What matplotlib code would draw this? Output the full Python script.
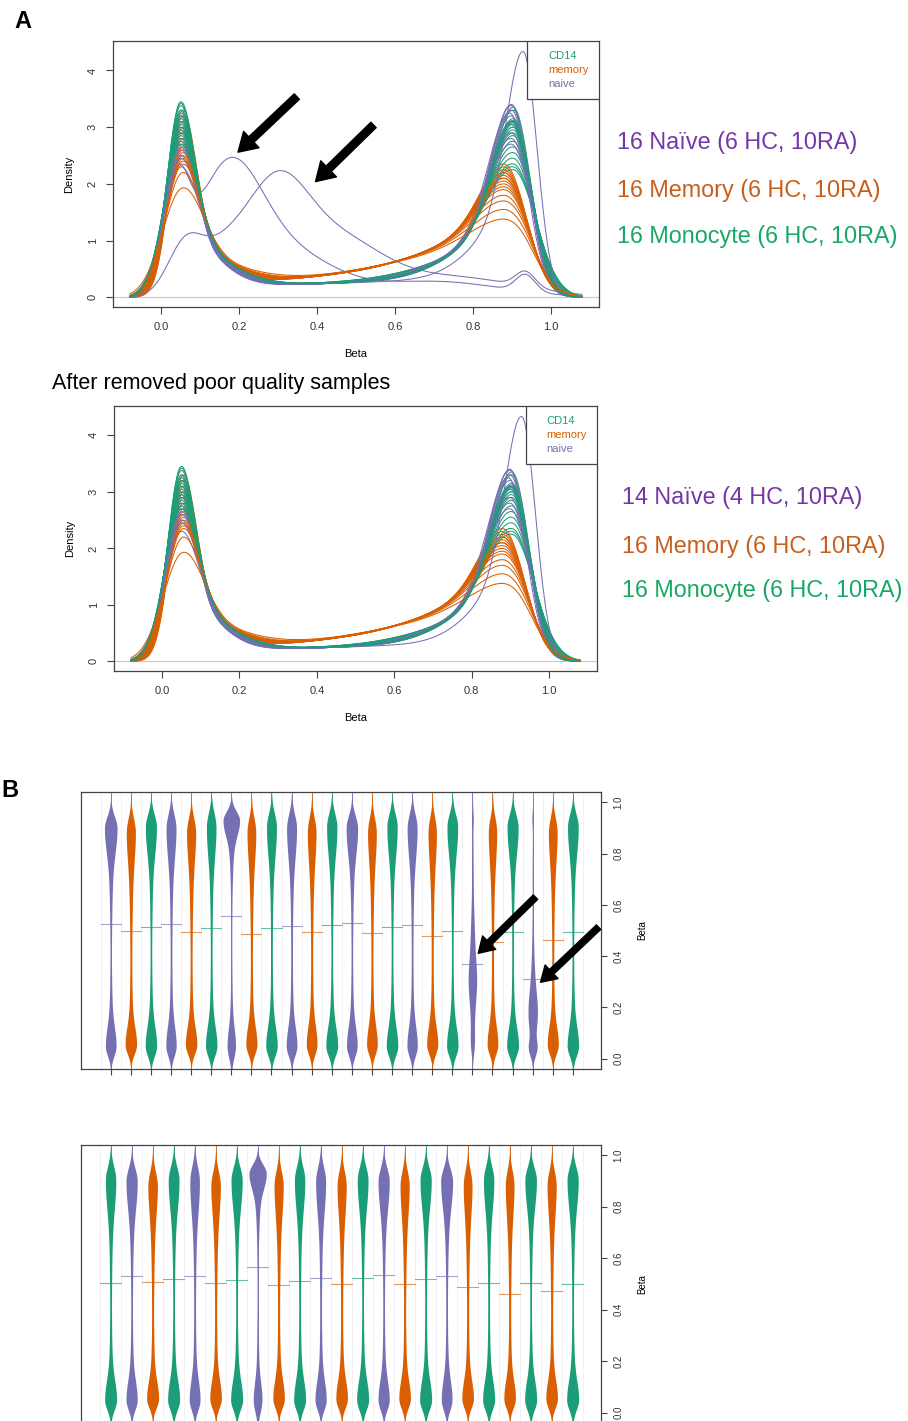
import numpy as np
import matplotlib.pyplot as plt
from matplotlib.patches import Rectangle

plt.rcParams['font.family'] = ['Liberation Sans', 'DejaVu Sans']

W, H = 908, 1421

# RColorBrewer Dark2, as in the R plots
cols = {'CD14': '#1B9E77', 'memory': '#D95F02', 'naive': '#7570B3'}
text_cols = {'naive': '#7536A6', 'memory': '#C75F1C', 'CD14': '#17A865'}

# ---- panel A: peak heights of each density curve ----
cd14_lo = [3.45, 3.42, 3.38, 3.3, 3.25, 3.2, 3.15, 3.1, 3.05, 3.0, 2.95, 2.9, 2.85, 2.8, 2.75, 2.7]
cd14_hi = [2.25, 2.3, 2.35, 2.45, 2.55, 2.65, 2.75, 2.85, 2.9, 2.95, 3.0, 3.05, 3.08, 3.1, 3.12, 3.3]
naive_lo = [3.3, 3.2, 3.1, 3.0, 2.95, 2.9, 2.8, 2.75, 2.7, 2.65, 2.6, 2.5, 2.3, 2.45]
naive_hi = [3.4, 3.38, 3.35, 3.3, 3.25, 3.2, 3.15, 3.1, 3.05, 3.0, 2.9, 2.8, 2.7, 4.33]
naive_hi_pos = [0.9, 0.9, 0.905, 0.9, 0.895, 0.9, 0.905, 0.9, 0.9, 0.905, 0.9, 0.9, 0.9, 0.93]
memory_lo = [3.3, 3.2, 3.1, 3.0, 2.9, 2.8, 2.7, 2.65, 2.6, 2.55, 2.5, 2.45, 2.4, 2.35, 2.2, 1.93]
memory_hi = [2.35, 2.3, 2.25, 2.2, 2.2, 2.15, 2.1, 2.1, 2.05, 2.0, 1.95, 1.9, 1.8, 1.7, 1.55, 1.38]

# group shape: low peak pos, high peak pos, low sd, high sd, middle level, middle slope
shape = {
    'CD14':   (0.05, 0.905, 0.039, 0.052, 0.27, 0.9),
    'naive':  (0.05, 0.900, 0.039, 0.050, 0.26, 0.9),
    'memory': (0.055, 0.880, 0.041, 0.060, 0.45, 2.0),
}
ref_h = {'CD14': (3.05, 2.9), 'naive': (2.8, 3.1), 'memory': (2.6, 2.05)}

# two poor-quality naive samples, as gaussian pieces (centre, sd, height)
bad_naive_1 = [(0.04, 0.03, 1.6), (0.17, 0.085, 2.1), (0.32, 0.12, 0.75),
               (0.70, 0.17, 0.28), (0.935, 0.025, 0.3)]
bad_naive_2 = [(0.06, 0.045, 0.85), (0.15, 0.06, 0.6), (0.29, 0.08, 1.7),
               (0.44, 0.12, 1.0), (0.75, 0.17, 0.35), (0.935, 0.025, 0.27)]

# ---- panel B: bean plots (peak densities and mean beta per sample) ----
b1_group = ['naive', 'memory', 'CD14'] * 8
b1_lo = [2.8, 3.0, 3.0, 2.7, 3.0, 3.0, 2.2, 2.9, 3.0, 2.8, 2.8, 3.1,
         2.8, 2.8, 3.0, 2.7, 2.9, 3.0, None, 2.8, 3.1, None, 2.9, 3.0]
b1_hi = [3.3, 2.4, 2.9, 2.6, 2.4, 2.5, 4.33, 2.3, 2.6, 2.6, 2.3, 2.7,
         3.0, 2.3, 2.7, 2.6, 2.2, 2.8, None, 2.2, 2.9, None, 2.3, 2.8]
b1_mean = [0.526, 0.499, 0.514, 0.525, 0.496, 0.509, 0.557, 0.488, 0.508, 0.517, 0.495, 0.521,
           0.529, 0.492, 0.512, 0.522, 0.480, 0.499, 0.371, 0.455, 0.496, 0.310, 0.464, 0.494]
b1_bad = {19: bad_naive_2, 22: bad_naive_1}

b2_group = ['CD14', 'naive', 'memory', 'CD14', 'naive', 'memory', 'CD14', 'naive', 'memory',
            'CD14', 'naive', 'memory', 'CD14', 'naive', 'memory', 'CD14', 'naive', 'memory',
            'CD14', 'memory', 'CD14', 'memory', 'CD14']
b2_lo = [3.0, 2.8, 3.0, 3.0, 2.7, 2.9, 3.0, 2.2, 2.9, 3.0, 2.8, 2.9,
         3.0, 2.8, 2.9, 3.0, 2.7, 2.9, 3.0, 2.9, 3.0, 2.9, 3.0]
b2_hi = [2.6, 2.8, 2.4, 2.7, 2.4, 2.4, 2.8, 4.33, 2.3, 2.6, 2.5, 2.3,
         2.7, 2.8, 2.3, 2.8, 3.0, 2.2, 2.6, 2.2, 2.9, 2.3, 2.8]
b2_mean = [0.505, 0.533, 0.509, 0.520, 0.533, 0.503, 0.514, 0.567, 0.497, 0.513, 0.523, 0.501,
           0.525, 0.536, 0.500, 0.518, 0.531, 0.489, 0.505, 0.461, 0.502, 0.471, 0.500]


def sig(z):
    return 1 / (1 + np.exp(-z))


def peak(x, mu, sd_out, sd_in, tail_right):
    # outer side plain gaussian, inner side gaussian with a heavier tail
    outer = np.exp(-0.5 * ((x - mu) / sd_out) ** 2)
    z = (x - mu) / sd_in
    inner = 0.7 * np.exp(-0.5 * z ** 2) + 0.3 * np.exp(-0.5 * (z / 2.5) ** 2)
    side = (x > mu) if tail_right else (x < mu)
    return np.where(side, inner, outer)


def density(x, group, lo_h, hi_h, hi_pos=None, spread=1.0):
    lo_mu, hi_mu, lo_sd, hi_sd, mid_a, mid_b = shape[group]
    if hi_pos is not None:
        hi_mu = hi_pos
    lo_sd = lo_sd * (ref_h[group][0] / lo_h) ** 0.8
    hi_sd = hi_sd * (ref_h[group][1] / hi_h) ** 0.8

    def mid(v):
        return mid_a * np.exp(mid_b * (v - 0.5)) * sig((v - 0.1) / 0.03) * sig((0.95 - v) / 0.025)
    return (mid(x) + (lo_h - mid(lo_mu)) * peak(x, lo_mu, lo_sd, lo_sd * spread, True)
            + (hi_h - mid(hi_mu)) * peak(x, hi_mu, hi_sd * 0.92, hi_sd * 1.1 * spread, False))


def pieces(x, parts):
    return sum(h * np.exp(-0.5 * ((x - m) / s) ** 2) for m, s, h in parts)


fig = plt.figure(figsize=(W / 100, H / 100), dpi=100)


def add_ax(l, t, r, b):
    return fig.add_axes([l / W, 1 - b / H, (r - l) / W, (b - t) / H])


def box_style(ax):
    for s in ax.spines.values():
        s.set_color('#444444')
        s.set_linewidth(0.9)
    ax.tick_params(colors='#444444', labelcolor='#333333', length=5, width=0.8, labelsize=8)


def density_panel(ax, with_bad):
    x = np.linspace(-0.08, 1.08, 700)
    ax.axhline(0, color='#c8c8c8', lw=0.8, zorder=0)
    for i in range(16):
        if i < len(naive_lo):
            ax.plot(x, density(x, 'naive', naive_lo[i], naive_hi[i], naive_hi_pos[i]),
                    color=cols['naive'], lw=0.75)
        ax.plot(x, density(x, 'memory', memory_lo[i], memory_hi[i]), color=cols['memory'], lw=0.75)
        ax.plot(x, density(x, 'CD14', cd14_lo[i], cd14_hi[i]), color=cols['CD14'], lw=0.75)
        if with_bad and i in (3, 9):
            ax.plot(x, pieces(x, bad_naive_1 if i == 3 else bad_naive_2), color=cols['naive'], lw=0.75)
    ax.set_xlim(-0.124, 1.124)
    ax.set_ylim(-0.17, 4.52)
    ax.set_xticks([0, 0.2, 0.4, 0.6, 0.8, 1.0])
    ax.set_xticklabels(['0.0', '0.2', '0.4', '0.6', '0.8', '1.0'])
    ax.set_yticks([0, 1, 2, 3, 4])
    ax.set_yticklabels(['0', '1', '2', '3', '4'], rotation=90, va='center')
    ax.set_xlabel('Beta', fontsize=8, labelpad=12)
    ax.set_ylabel('Density', fontsize=8, labelpad=10)
    box_style(ax)
    ax.tick_params(axis='x', pad=6)
    ax.tick_params(axis='y', pad=6)
    # legend box, top right
    ax.add_patch(Rectangle((0.852, 0.782), 0.148, 0.218, transform=ax.transAxes,
                           facecolor='white', edgecolor='#444444', lw=0.9, zorder=5))
    for name, yy in [('CD14', 0.944), ('memory', 0.891), ('naive', 0.838)]:
        ax.text(0.895, yy, name, transform=ax.transAxes, color=cols[name], fontsize=8,
                va='center', ha='left', zorder=6)


def bean_panel(ax, groups, lo, hi, means, bad, xlim):
    y = np.linspace(-0.04, 1.035, 500)
    n = len(groups)
    for p in np.arange(0.5, n + 1, 1.0):
        ax.axvline(p, color='#f0f0f0', lw=0.6, zorder=0)
    for i in range(n):
        pos = i + 1
        g = groups[i]
        if pos in bad:
            d = pieces(y, bad[pos])
        elif hi[i] > 4:
            d = density(y, g, lo[i], hi[i], 0.93, spread=1.3)
        else:
            d = density(y, g, lo[i], hi[i], spread=1.7)
        half = d * 0.095
        ax.fill_betweenx(y, pos - half, pos + half, color=cols[g], lw=0, zorder=2)
        ax.plot([pos, pos], [y[0], y[-1]], color=cols[g], lw=0.6, zorder=2)
        ax.plot([pos - 0.5, pos + 0.5], [means[i], means[i]], color=cols[g], lw=0.8,
                alpha=0.65, zorder=3)
    ax.set_xlim(*xlim)
    ax.set_ylim(-0.04, 1.04)
    ax.set_xticks(range(1, n + 1))
    ax.set_xticklabels([])
    ax.yaxis.tick_right()
    ax.yaxis.set_label_position('right')
    ax.set_yticks([0, 0.2, 0.4, 0.6, 0.8, 1.0])
    ax.set_yticklabels(['0.0', '0.2', '0.4', '0.6', '0.8', '1.0'], rotation=90, va='center')
    ax.set_ylabel('Beta', fontsize=7, labelpad=10)
    box_style(ax)
    ax.tick_params(labelsize=7, length=4, pad=5)


def arrow(ax, tail, tip, scale):
    ax.annotate('', xy=tip, xytext=tail, annotation_clip=False,
                arrowprops=dict(arrowstyle='simple,head_length=1.1,head_width=1.35,tail_width=0.45',
                                fc='black', ec='black', mutation_scale=scale,
                                shrinkA=0, shrinkB=0), zorder=10)


# ---- panel A, all samples ----
ax1 = add_ax(113, 41, 599, 307)
density_panel(ax1, True)
arrow(ax1, (0.348, 3.54), (0.197, 2.56), 12)
arrow(ax1, (0.545, 3.04), (0.396, 2.04), 12)

# ---- panel A, after QC ----
ax2 = add_ax(114, 406, 597, 671)
density_panel(ax2, False)

# ---- panel B ----
ax3 = add_ax(81, 792, 601, 1069)
bean_panel(ax3, b1_group, b1_lo, b1_hi, b1_mean, b1_bad, (-0.48, 25.4))
arrow(ax3, (22.14, 0.63), (19.29, 0.411), 10)
arrow(ax3, (25.28, 0.513), (22.39, 0.298), 10)

ax4 = add_ax(81, 1145, 601, 1423)
bean_panel(ax4, b2_group, b2_lo, b2_hi, b2_mean, {}, (-0.41, 24.35))

# ---- labels and side text ----
fig.text(14 / W, 1 - 22 / H, 'A', fontsize=17, fontweight='bold', va='center', ha='left')
fig.text(1 / W, 1 - 790 / H, 'B', fontsize=17, fontweight='bold', va='center', ha='left')
fig.text(52 / W, 1 - 384 / H, 'After removed poor quality samples', fontsize=15.5,
         va='center', ha='left')

side_top = [('16 Naïve (6 HC, 10RA)', 'naive', 143), ('16 Memory (6 HC, 10RA)', 'memory', 190),
            ('16 Monocyte (6 HC, 10RA)', 'CD14', 236)]
side_bottom = [('14 Naïve (4 HC, 10RA)', 'naive', 498), ('16 Memory (6 HC, 10RA)', 'memory', 547),
               ('16 Monocyte (6 HC, 10RA)', 'CD14', 590)]
for txt, g, yy in side_top:
    fig.text(617 / W, 1 - yy / H, txt, color=text_cols[g], fontsize=16.8, va='center', ha='left')
for txt, g, yy in side_bottom:
    fig.text(622 / W, 1 - yy / H, txt, color=text_cols[g], fontsize=16.8, va='center', ha='left')

fig.savefig('out.png', dpi=100)
